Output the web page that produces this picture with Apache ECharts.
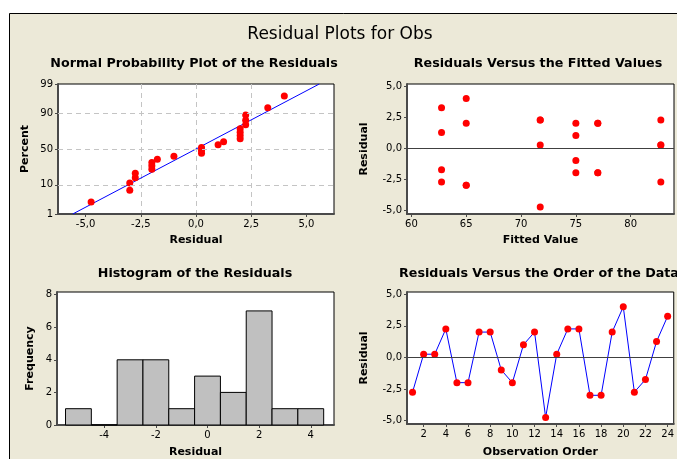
<!DOCTYPE html>
<html>
<head>
<meta charset="utf-8">
<title>Residual Plots for Obs</title>
<script src="https://cdn.jsdelivr.net/npm/echarts@6/dist/echarts.min.js"></script>
<style>
  html, body { margin: 0; padding: 0; background: #fff; }
  #chart { width: 677px; height: 459px; }
</style>
</head>
<body>
<div id="chart"></div>
<script>
// Residuals in observation order (1..24) and the fitted value of each observation
const observationOrder = [1,2,3,4,5,6,7,8,9,10,11,12,13,14,15,16,17,18,19,20,21,22,23,24];
const residuals = [-2.75, 0.25, 0.25, 2.25, -2, -2, 2, 2, -1, -2, 1, 2,
                   -4.75, 0.25, 2.25, 2.25, -3, -3, 2, 4, -2.75, -1.75, 1.25, 3.25];
const fittedValues = [82.75, 82.75, 82.75, 82.75, 77, 77, 77, 77, 75, 75, 75, 75,
                      71.75, 71.75, 71.75, 71.75, 65, 65, 65, 65, 62.75, 62.75, 62.75, 62.75];

// Normal probability plot: ordered residuals and their plotted percent
const probResiduals = [-4.75, -3, -3, -2.75, -2.75, -2, -2, -2, -1.75, -1, 0.25, 0.25,
                       0.25, 1, 1.25, 2, 2, 2, 2, 2.25, 2.25, 2.25, 3.25, 4];
const probPercent = [2.9, 7.0, 11.1, 15.2, 19.3, 23.4, 27.5, 31.6, 35.7, 39.8, 43.9, 48.0,
                     52.0, 56.1, 60.2, 64.3, 68.4, 72.5, 76.6, 80.7, 84.8, 88.9, 93.0, 97.1];
const percentTicks = [1, 10, 50, 90, 99];
const percentGrid = [10, 50, 90];
const fitMean = 0;
const fitStDev = 2.4;

// Histogram of the residuals: bin midpoints (width 1) and counts
const binMids = [-5, -4, -3, -2, -1, 0, 1, 2, 3, 4];
const binCounts = [1, 0, 4, 4, 1, 3, 2, 7, 1, 1];
const binWidth = 1;

// Tick labels
const probXTicks = [-5, -2.5, 0, 2.5, 5];
const residTicks = [-5, -2.5, 0, 2.5, 5];
const fittedTicks = [60, 65, 70, 75, 80];
const histXTicks = [-4, -2, 0, 2, 4];
const histYTicks = [0, 2, 4, 6, 8];
const orderTicks = [2, 4, 6, 8, 10, 12, 14, 16, 18, 20, 22, 24];

// Inverse standard normal CDF (Acklam's rational approximation) for the probability scale
function normInv(p) {
  const a = [-3.969683028665376e+01, 2.209460984245205e+02, -2.759285104469687e+02,
             1.383577518672690e+02, -3.066479806614716e+01, 2.506628277459239e+00];
  const b = [-5.447609879822406e+01, 1.615858368580409e+02, -1.556989798598866e+02,
             6.680131188771972e+01, -1.328068155288572e+01];
  const c = [-7.784894002430293e-03, -3.223964580411365e-01, -2.400758277161838e+00,
             -2.549732539343734e+00, 4.374664141464968e+00, 2.938163982698783e+00];
  const d = [7.784695709041462e-03, 3.224671290700398e-01, 2.445134137142996e+00,
             3.754408661907416e+00];
  const plow = 0.02425, phigh = 1 - plow;
  let q, r;
  if (p < plow) {
    q = Math.sqrt(-2 * Math.log(p));
    return (((((c[0]*q+c[1])*q+c[2])*q+c[3])*q+c[4])*q+c[5]) /
           ((((d[0]*q+d[1])*q+d[2])*q+d[3])*q+1);
  }
  if (p <= phigh) {
    q = p - 0.5; r = q * q;
    return (((((a[0]*r+a[1])*r+a[2])*r+a[3])*r+a[4])*r+a[5])*q /
           (((((b[0]*r+b[1])*r+b[2])*r+b[3])*r+b[4])*r+1);
  }
  q = Math.sqrt(-2 * Math.log(1 - p));
  return -(((((c[0]*q+c[1])*q+c[2])*q+c[3])*q+c[4])*q+c[5]) /
          ((((d[0]*q+d[1])*q+d[2])*q+d[3])*q+1);
}
const z = pct => normInv(pct / 100);
const zMin = z(percentTicks[0]);
const zMax = z(percentTicks[percentTicks.length - 1]);

const FONT = 'Tahoma, "DejaVu Sans", sans-serif';
const BG = '#ECE9D8';
const comma1 = v => v.toFixed(1).replace('.', ',');

function axisBase(gridIndex, extra) {
  return Object.assign({
    gridIndex: gridIndex,
    type: 'value',
    nameLocation: 'middle',
    nameTextStyle: { fontFamily: FONT, fontWeight: 'bold', fontSize: 11, color: '#000' },
    axisLine: { show: true, onZero: false, lineStyle: { color: '#4a4a4a', width: 2 } },
    axisTick: { show: true, length: 3, lineStyle: { color: '#4a4a4a', width: 1 } },
    axisLabel: { fontFamily: FONT, fontSize: 10, color: '#000', margin: 5 },
    splitLine: { show: false }
  }, extra);
}

const dashed = { color: '#c4c4c4', type: [5, 4], width: 1 };
const dot = { color: '#ff0000', opacity: 1 };

const chart = echarts.init(document.getElementById('chart'), null, { renderer: 'canvas' });

const panelTitle = (text, x, y) => ({
  text: text, left: x, top: y, textAlign: 'center', padding: 0,
  textStyle: { fontFamily: FONT, fontWeight: 'bold', fontSize: 12.7, color: '#000' }
});

chart.setOption({
  backgroundColor: BG,
  animation: false,
  graphic: [
    { type: 'rect', shape: { x: 0, y: 0, width: 9, height: 459 }, style: { fill: '#fff' }, silent: true },
    { type: 'rect', shape: { x: 0, y: 0, width: 677, height: 13 }, style: { fill: '#fff' }, silent: true },
    { type: 'line', shape: { x1: 9.5, y1: 13.5, x2: 677, y2: 13.5 }, style: { stroke: '#000', lineWidth: 1 }, silent: true },
    { type: 'line', shape: { x1: 9.5, y1: 13.5, x2: 9.5, y2: 459 }, style: { stroke: '#000', lineWidth: 1 }, silent: true }
  ],
  title: [
    { text: 'Residual Plots for Obs', left: 340, top: 26, textAlign: 'center', padding: 0,
      textStyle: { fontFamily: FONT, fontWeight: 'normal', fontSize: 17, color: '#000' } },
    panelTitle('Normal Probability Plot of the Residuals', 194, 57),
    panelTitle('Residuals Versus the Fitted Values', 538, 57),
    panelTitle('Histogram of the Residuals', 195, 267),
    panelTitle('Residuals Versus the Order of the Data', 539, 267)
  ],
  grid: [
    { left: 58, top: 84, width: 276, height: 130 },
    { left: 407, top: 84, width: 267, height: 130 },
    { left: 57, top: 292, width: 277, height: 133 },
    { left: 407, top: 292, width: 267, height: 132 }
  ].map(g => Object.assign(g, { show: true, backgroundColor: '#fff', borderColor: '#000', borderWidth: 1 })),
  xAxis: [
    axisBase(0, {
      min: -6.25, max: 6.25, interval: 1.25,
      name: 'Residual', nameGap: 21,
      axisTick: { show: true, length: 3, customValues: probXTicks, lineStyle: { color: '#4a4a4a' } },
      axisLabel: { fontFamily: FONT, fontSize: 10, color: '#000', margin: 5, customValues: probXTicks, formatter: comma1 },
      splitLine: { show: true, showMinLine: false, showMaxLine: false, lineStyle: dashed }
    }),
    axisBase(1, {
      min: 59.6, max: 83.95,
      name: 'Fitted Value', nameGap: 21,
      axisTick: { show: true, length: 3, customValues: fittedTicks, lineStyle: { color: '#4a4a4a' } },
      axisLabel: { fontFamily: FONT, fontSize: 10, color: '#000', margin: 5, customValues: fittedTicks }
    }),
    axisBase(2, {
      min: -5.83, max: 4.9,
      name: 'Residual', nameGap: 22,
      axisTick: { show: true, length: 3, customValues: histXTicks, lineStyle: { color: '#4a4a4a' } },
      axisLabel: { fontFamily: FONT, fontSize: 10, color: '#000', margin: 5, customValues: histXTicks }
    }),
    axisBase(3, {
      min: 0.5, max: 24.55,
      name: 'Observation Order', nameGap: 23,
      axisTick: { show: true, length: 3, customValues: orderTicks, lineStyle: { color: '#4a4a4a' } },
      axisLabel: { fontFamily: FONT, fontSize: 10, color: '#000', margin: 5, customValues: orderTicks }
    })
  ],
  yAxis: [
    axisBase(0, {
      min: zMin, max: zMax,
      name: 'Percent', nameGap: 27,
      axisTick: { show: true, length: 3, customValues: percentTicks.map(z), lineStyle: { color: '#4a4a4a' } },
      axisLabel: {
        fontFamily: FONT, fontSize: 10, color: '#000', margin: 5,
        customValues: percentTicks.map(z),
        formatter: v => {
          let best = percentTicks[0];
          percentTicks.forEach(p => { if (Math.abs(z(p) - v) < Math.abs(z(best) - v)) best = p; });
          return String(best);
        }
      }
    }),
    axisBase(1, {
      min: -5.32, max: 5.16,
      name: 'Residual', nameGap: 37,
      axisTick: { show: true, length: 3, customValues: residTicks, lineStyle: { color: '#4a4a4a' } },
      axisLabel: { fontFamily: FONT, fontSize: 10, color: '#000', margin: 5, customValues: residTicks, formatter: comma1 }
    }),
    axisBase(2, {
      min: 0, max: 8.16,
      name: 'Frequency', nameGap: 21,
      axisTick: { show: true, length: 3, customValues: histYTicks, lineStyle: { color: '#4a4a4a' } },
      axisLabel: { fontFamily: FONT, fontSize: 10, color: '#000', margin: 5, customValues: histYTicks }
    }),
    axisBase(3, {
      min: -5.27, max: 5.17,
      name: 'Residual', nameGap: 37,
      axisTick: { show: true, length: 3, customValues: residTicks, lineStyle: { color: '#4a4a4a' } },
      axisLabel: { fontFamily: FONT, fontSize: 10, color: '#000', margin: 5, customValues: residTicks, formatter: comma1 }
    })
  ],
  series: [
    // Normal probability plot: horizontal reference grid at 10, 50, 90 percent
    {
      type: 'line', xAxisIndex: 0, yAxisIndex: 0, data: [], z: 1, silent: true,
      markLine: {
        silent: true, symbol: ['none', 'none'], label: { show: false },
        lineStyle: dashed,
        data: percentGrid.map(p => ({ yAxis: z(p) }))
      }
    },
    // fitted normal line
    {
      type: 'line', xAxisIndex: 0, yAxisIndex: 0, z: 2, silent: true,
      showSymbol: false, symbol: 'none',
      lineStyle: { color: '#0000ff', width: 1 },
      data: [[fitMean + fitStDev * zMin, zMin], [fitMean + fitStDev * zMax, zMax]]
    },
    {
      type: 'scatter', xAxisIndex: 0, yAxisIndex: 0, z: 3,
      symbol: 'circle', symbolSize: 7,
      itemStyle: dot,
      data: probResiduals.map((r, i) => [r, z(probPercent[i])])
    },
    // Residuals versus fitted values
    {
      type: 'line', xAxisIndex: 1, yAxisIndex: 1, data: [], z: 1, silent: true,
      markLine: {
        silent: true, symbol: ['none', 'none'], label: { show: false },
        lineStyle: { color: '#404040', type: 'solid', width: 1 },
        data: [{ yAxis: 0 }]
      }
    },
    {
      type: 'scatter', xAxisIndex: 1, yAxisIndex: 1, z: 3,
      symbol: 'circle', symbolSize: 7,
      itemStyle: dot,
      data: fittedValues.map((f, i) => [f, residuals[i]])
    },
    // Histogram of the residuals
    {
      type: 'custom', xAxisIndex: 2, yAxisIndex: 2, z: 2,
      data: binMids.map((m, i) => [m, binCounts[i]]),
      renderItem: (params, api) => {
        const mid = api.value(0), count = api.value(1);
        const p0 = api.coord([mid - binWidth / 2, count]);
        const p1 = api.coord([mid + binWidth / 2, 0]);
        return {
          type: 'rect',
          shape: { x: p0[0], y: p0[1], width: p1[0] - p0[0], height: p1[1] - p0[1] },
          style: { fill: '#c0c0c0', stroke: '#000', lineWidth: 1 }
        };
      }
    },
    // Residuals versus observation order
    {
      type: 'line', xAxisIndex: 3, yAxisIndex: 3, data: [], z: 1, silent: true,
      markLine: {
        silent: true, symbol: ['none', 'none'], label: { show: false },
        lineStyle: { color: '#404040', type: 'solid', width: 1 },
        data: [{ yAxis: 0 }]
      }
    },
    {
      type: 'line', xAxisIndex: 3, yAxisIndex: 3, z: 3,
      symbol: 'circle', symbolSize: 7, showSymbol: true,
      lineStyle: { color: '#0000ff', width: 1 },
      itemStyle: dot,
      data: observationOrder.map((o, i) => [o, residuals[i]])
    }
  ]
});
</script>
</body>
</html>
